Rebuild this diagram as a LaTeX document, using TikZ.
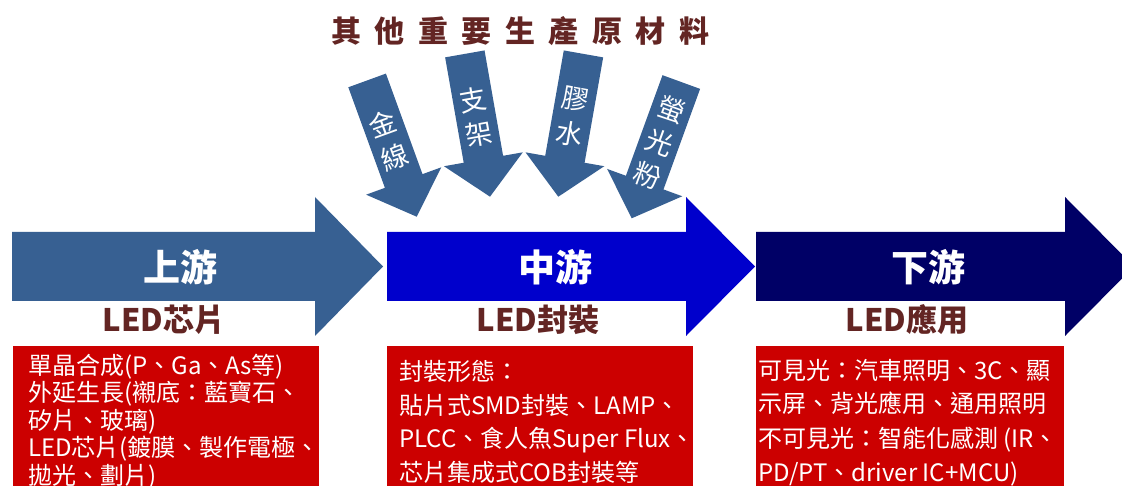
\documentclass[tikz,border=0pt]{standalone}
\usepackage{fontspec}
\setmainfont{Noto Sans CJK TC}
\newfontfamily\cjk{Noto Sans CJK TC}
\definecolor{steel}{HTML}{376092}
\definecolor{midblue}{HTML}{0000CC}
\definecolor{navyblue}{HTML}{000066}
\definecolor{boxred}{HTML}{CC0000}
\definecolor{brown}{HTML}{632523}
\tikzset{
  downarrow/.style={fill=steel},
  stagetitle/.style={text=white, font=\cjk\bfseries\fontsize{37}{40}\selectfont, inner sep=0},
  stagelabel/.style={text=brown, font=\cjk\bfseries\fontsize{31}{34}\selectfont, inner sep=0},
  boxline/.style={text=white, font=\cjk\fontsize{24}{28}\selectfont, inner sep=0, anchor=base west},
  arrowtext/.style={text=white, font=\cjk\fontsize{27}{35}\selectfont, inner sep=0, align=center, transform shape},
  maintitle/.style={text=brown, font=\cjk\bfseries\fontsize{30}{34}\selectfont, inner sep=0}
}
\begin{document}
\begin{tikzpicture}[x=1pt,y=-1pt]
\clip (0,0) rectangle (1122,486);
\fill[white] (0,0) rectangle (1122,486);
% big arrows
\fill[steel] (12,232) -- (315,232) -- (315,197) -- (383,266.5) -- (315,336) -- (315,301) -- (12,301) -- cycle;
\fill[midblue] (387,232) -- (686,232) -- (686,197) -- (755,266.5) -- (686,336) -- (686,301) -- (387,301) -- cycle;
\fill[navyblue] (756,232) -- (1065,232) -- (1065,197) -- (1134,266.5) -- (1065,336) -- (1065,301) -- (756,301) -- cycle;
% red boxes
\fill[boxred] (13,346) rectangle (319,490);
\fill[boxred] (387,346) rectangle (693,490);
\fill[boxred] (756,346) rectangle (1064,490);
% stage titles
\node[stagetitle] (up) at (180,267) {上游};
\node[stagetitle] (mid) at (555,267) {中游};
\node[stagetitle] (down) at (928,267) {下游};
\node[stagelabel] (chip) at (164,320) {LED芯片};
\node[stagelabel] (pack) at (538,320) {LED封裝};
\node[stagelabel] (appl) at (907,320) {LED應用};
% box 1
\node[boxline] (b1a) at (28,374) {單晶合成(P、Ga、As等)};
\node[boxline] (b1b) at (28,401.5) {外延生長(襯底：藍寶石、};
\node[boxline] (b1c) at (28,429) {矽片、玻璃)};
\node[boxline] (b1d) at (28,456.5) {LED芯片(鍍膜、製作電極、};
\node[boxline] (b1e) at (28,484) {拋光、劃片)};
% box 2
\node[boxline] (b2a) at (399,381) {封裝形態：};
\node[boxline] (b2b) at (399,414) {貼片式SMD封裝、LAMP、};
\node[boxline] (b2c) at (399,447) {PLCC、食人魚Super Flux、};
\node[boxline] (b2d) at (399,481) {芯片集成式COB封裝等};
% box 3
\node[boxline] (b3a) at (758,379) {可見光：汽車照明、3C、顯};
\node[boxline] (b3b) at (758,412) {示屏、背光應用、通用照明};
\node[boxline] (b3c) at (758,447) {不可見光：智能化感測 (IR、};
\node[boxline] (b3d) at (758,481) {PD/PT、driver IC+MCU)};
% top title
\node[maintitle] (title) at (520,31) {其\hspace{13.5pt}他\hspace{13.5pt}重\hspace{13.5pt}要\hspace{13.5pt}生\hspace{13.5pt}產\hspace{13.5pt}原\hspace{13.5pt}材\hspace{13.5pt}料};
% down arrows
\begin{scope}[shift={(416.7,216.7)}, rotate=20]
  \fill[downarrow] (0,0) -- (40,-38) -- (20,-38) -- (20,-145) -- (-20,-145) -- (-20,-38) -- (-40,-38) -- cycle;
  \node[arrowtext] (gold) at (0,-81) {金\\線};
\end{scope}
\begin{scope}[shift={(490,196.7)}, rotate=10]
  \fill[downarrow] (0,0) -- (40,-38) -- (20,-38) -- (20,-145) -- (-20,-145) -- (-20,-38) -- (-40,-38) -- cycle;
  \node[arrowtext] (frame) at (0,-81) {支\\架};
\end{scope}
\begin{scope}[shift={(558.3,196.7)}, rotate=-10]
  \fill[downarrow] (0,0) -- (40,-38) -- (20,-38) -- (20,-145) -- (-20,-145) -- (-20,-38) -- (-40,-38) -- cycle;
  \node[arrowtext] (glue) at (0,-81) {膠\\水};
\end{scope}
\begin{scope}[shift={(631.7,218.3)}, rotate=-20]
  \fill[downarrow] (0,0) -- (40,-38) -- (20,-38) -- (20,-145) -- (-20,-145) -- (-20,-38) -- (-40,-38) -- cycle;
  \node[arrowtext] (phos) at (0,-81) {螢\\光\\粉};
\end{scope}
\end{tikzpicture}
\end{document}
